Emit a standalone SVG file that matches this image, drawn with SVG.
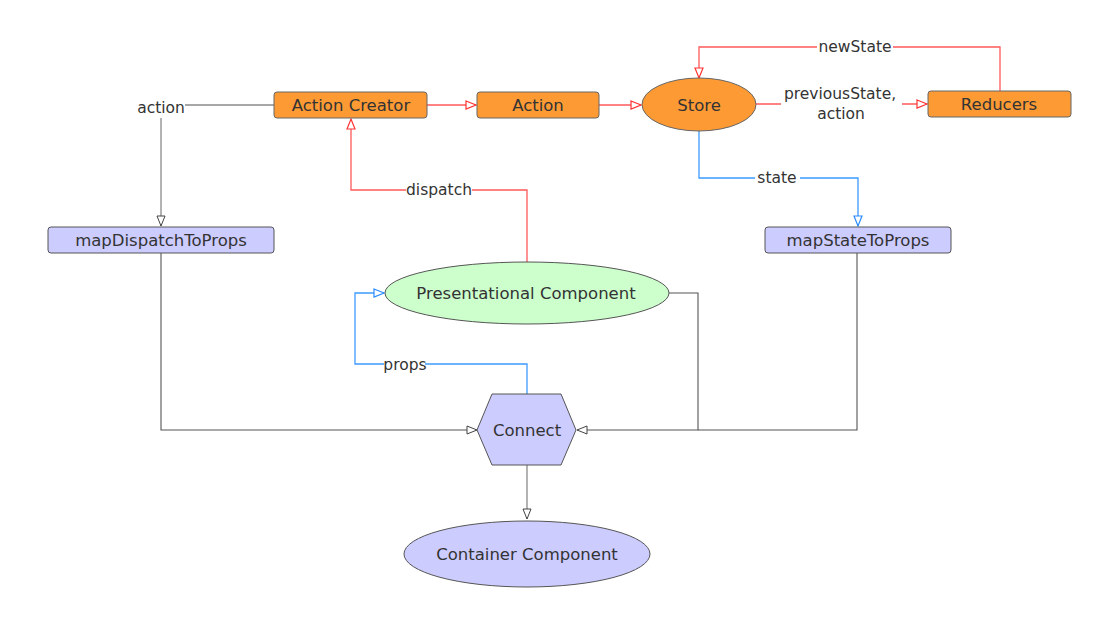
<svg xmlns="http://www.w3.org/2000/svg" width="1103" height="619" viewBox="0 0 1103 619">
<style>
text{font-family:"DejaVu Sans","Liberation Sans",sans-serif;fill:#333;text-anchor:middle;dominant-baseline:central}
.n{font-size:16.5px}
.l{font-size:15.5px}
.or{fill:#fd9a33;stroke:#666;stroke-width:1}
.lv{fill:#ccccff;stroke:#555;stroke-width:1}
.gr{fill:#ccffcc;stroke:#555;stroke-width:1}
.red{fill:none;stroke:#ff5a5a;stroke-width:1.3}
.blue{fill:none;stroke:#3c9bff;stroke-width:1.3}
.gray{fill:none;stroke:#8a8a8a;stroke-width:1.3}
.dark{fill:none;stroke:#555;stroke-width:1.1}
.bg{fill:#fff}
</style>
<defs>
<marker id="ar" markerUnits="userSpaceOnUse" markerWidth="14" markerHeight="12" refX="11" refY="5" orient="auto"><path d="M1,1 L11,5 L1,9 Z" fill="#fff" stroke="#ff3333" stroke-width="1.2"/></marker>
<marker id="ab" markerUnits="userSpaceOnUse" markerWidth="14" markerHeight="12" refX="11" refY="5" orient="auto"><path d="M1,1 L11,5 L1,9 Z" fill="#fff" stroke="#2a8cff" stroke-width="1.2"/></marker>
<marker id="ag" markerUnits="userSpaceOnUse" markerWidth="14" markerHeight="12" refX="11" refY="5" orient="auto"><path d="M1,1 L11,5 L1,9 Z" fill="#fff" stroke="#444" stroke-width="1"/></marker>
</defs>
<rect width="1103" height="619" fill="#fff"/>
<g id="connectors">
<path class="red" d="M427,105 H476" marker-end="url(#ar)"/>
<path class="red" d="M599,105 H641" marker-end="url(#ar)"/>
<path class="red" d="M756,104 H781 M902,104 H927" marker-end="url(#ar)"/>
<path class="red" d="M1000,91 V47 H699 V78" marker-end="url(#ar)"/>
<path class="red" d="M527,262 V190 H351 V119" marker-end="url(#ar)"/>
<path class="blue" d="M699,131 V178 H858 V226" marker-end="url(#ab)"/>
<path class="blue" d="M527,394 V364 H355 V293 H384" marker-end="url(#ab)"/>
<path class="gray" d="M274,105 H161 V226" marker-end="url(#ag)"/>
<path class="dark" d="M161,253 V430 H477" marker-end="url(#ag)"/>
<path class="dark" d="M669,293 H698 V430 H577" marker-end="url(#ag)"/>
<path class="dark" d="M857,253 V430 H698"/>
<path class="gray" d="M527,465 V519" marker-end="url(#ag)"/>
<rect class="bg" x="138" y="98" width="47" height="20"/>
<text class="l" x="161" y="108">action</text>
<rect class="bg" x="406" y="181" width="66" height="19"/>
<text class="l" x="439" y="190">dispatch</text>
<rect class="bg" x="817" y="38" width="76" height="19"/>
<text class="l" x="855" y="47">newState</text>
<rect class="bg" x="781" y="84" width="121" height="40"/>
<text class="l" x="840" y="94">previousState,</text>
<text class="l" x="841" y="114">action</text>
<rect class="bg" x="755" y="169" width="45" height="19"/>
<text class="l" x="777" y="178">state</text>
<rect class="bg" x="384" y="355" width="41" height="19"/>
<text class="l" x="405" y="365">props</text>
</g>
<g id="action-creator"><rect class="or" x="274" y="92" width="153" height="26" rx="3"/><text class="n" x="351" y="105">Action Creator</text></g>
<g id="action"><rect class="or" x="477" y="92" width="122" height="26" rx="3"/><text class="n" x="538" y="105">Action</text></g>
<g id="store"><ellipse class="or" cx="699" cy="104.5" rx="57" ry="26.5"/><text class="n" x="699" y="105">Store</text></g>
<g id="reducers"><rect class="or" x="928" y="91" width="143" height="26" rx="3"/><text class="n" x="999" y="104">Reducers</text></g>
<g id="map-dispatch"><rect class="lv" x="48" y="227" width="226" height="26" rx="3"/><text class="n" x="161" y="240">mapDispatchToProps</text></g>
<g id="map-state"><rect class="lv" x="765" y="227" width="186" height="26" rx="3"/><text class="n" x="858" y="240">mapStateToProps</text></g>
<g id="presentational"><ellipse class="gr" cx="527" cy="293" rx="142" ry="31"/><text class="n" x="526" y="293">Presentational Component</text></g>
<g id="connect"><polygon class="lv" points="492,394 561,394 576,430 561,465 492,465 477,430"/><text class="n" x="527" y="430">Connect</text></g>
<g id="container"><ellipse class="lv" cx="527" cy="554" rx="123" ry="33"/><text class="n" x="527" y="554">Container Component</text></g>
</svg>
